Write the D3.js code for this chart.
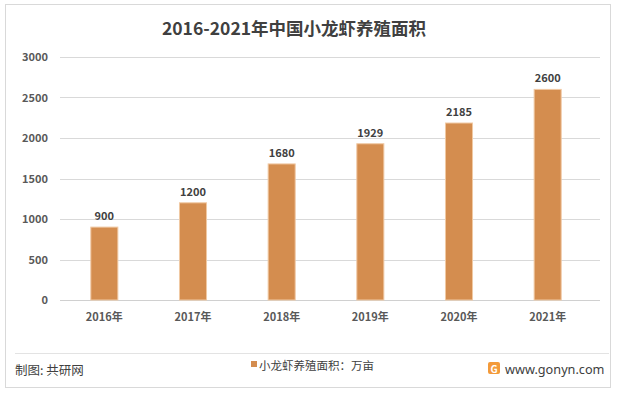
<!DOCTYPE html>
<html><head><meta charset="utf-8">
<script src="https://cdn.jsdelivr.net/npm/d3@7"></script>
<style>body{margin:0;background:#fff;} svg{display:block;font-family:"Noto Sans CJK SC","Noto Sans",sans-serif;}</style>
</head><body><svg id="c" width="617" height="393"></svg>
<script>
const categories = ["2016年","2017年","2018年","2019年","2020年","2021年"];
const values = [900,1200,1680,1929,2185,2600];
const yTicks = [0,500,1000,1500,2000,2500,3000];
const title = "2016-2021年中国小龙虾养殖面积";
const legendLabel = "小龙虾养殖面积：万亩";

const svg = d3.select("#c");
svg.append("rect").attr("x",5.5).attr("y",4.5).attr("width",605).attr("height",383)
  .attr("fill","#fff").attr("stroke","#d9d9d9");

const x = d3.scaleBand().domain(categories).range([60,592]).padding(0);
const y = d3.scaleLinear().domain([0,3000]).range([300,57]);

svg.append("text").attr("x",294).attr("y",35).attr("text-anchor","middle")
  .attr("font-size",17.5).attr("font-weight","bold").attr("fill","#404040").text(title);

// grid
svg.append("g").selectAll("line").data(yTicks).join("line")
  .attr("x1",60).attr("x2",600).attr("y1",d=>Math.round(y(d))+0.5).attr("y2",d=>Math.round(y(d))+0.5)
  .attr("stroke",d=>d===0?"#d0d0d0":"#d9d9d9").attr("stroke-width",1);

// y axis
const ya = d3.axisLeft(y).tickValues(yTicks).tickFormat(d3.format("d")).tickSize(0).tickPadding(0);
const gy = svg.append("g").attr("transform","translate(48,0)").call(ya);
gy.select(".domain").remove();
gy.selectAll("text").attr("font-size",11).attr("font-weight","bold").attr("fill","#595959")
  .attr("font-family","'Noto Sans CJK SC',sans-serif");

// x axis
const xa = d3.axisBottom(x).tickSize(0).tickPadding(0);
const gx = svg.append("g").attr("transform","translate(0,313)").call(xa);
gx.select(".domain").remove();
gx.selectAll("text").attr("font-size",11).attr("font-weight","bold").attr("fill","#595959")
  .attr("font-family","'Noto Sans CJK SC',sans-serif").attr("dy","0.71em");

// bars
const bw = x.bandwidth()*0.305;
svg.append("g").selectAll("rect").data(values).join("rect")
  .attr("x",(d,i)=>x(categories[i])+x.bandwidth()/2-bw/2)
  .attr("width",bw)
  .attr("y",d=>y(d)).attr("height",d=>y(0)-y(d))
  .attr("fill","#D48D4F").attr("stroke","#F0C9A4").attr("stroke-width",1);

svg.append("g").selectAll("text").data(values).join("text")
  .attr("x",(d,i)=>x(categories[i])+x.bandwidth()/2)
  .attr("y",d=>y(d)-7).attr("text-anchor","middle")
  .attr("font-size",11).attr("font-weight","bold").attr("fill","#404040").text(d=>d);

// footer
svg.append("line").attr("x1",15).attr("x2",609).attr("y1",353.5).attr("y2",353.5).attr("stroke","#e3e3e3");
svg.append("text").attr("x",15).attr("y",375).attr("font-size",12.5).attr("fill","#404040").text("制图: 共研网");
svg.append("rect").attr("x",251).attr("y",361).attr("width",6).attr("height",6).attr("fill","#D48D4F");
svg.append("text").attr("x",259).attr("y",370).attr("font-size",11.5).attr("fill","#404040").text(legendLabel);
// logo
const lg = svg.append("g").attr("transform","translate(488,362)");
lg.append("rect").attr("width",12).attr("height",12).attr("rx",2).attr("fill","#F39A3A");
lg.append("text").attr("x",6).attr("y",10.5).attr("text-anchor","middle").attr("font-size",10)
  .attr("font-weight","bold").attr("fill","#fff").text("G");
svg.append("text").attr("x",505).attr("y",374).attr("font-size",12.7).attr("fill","#404040")
  .attr("font-family","'Noto Sans',sans-serif").text("www.gonyn.com");
</script></body></html>
